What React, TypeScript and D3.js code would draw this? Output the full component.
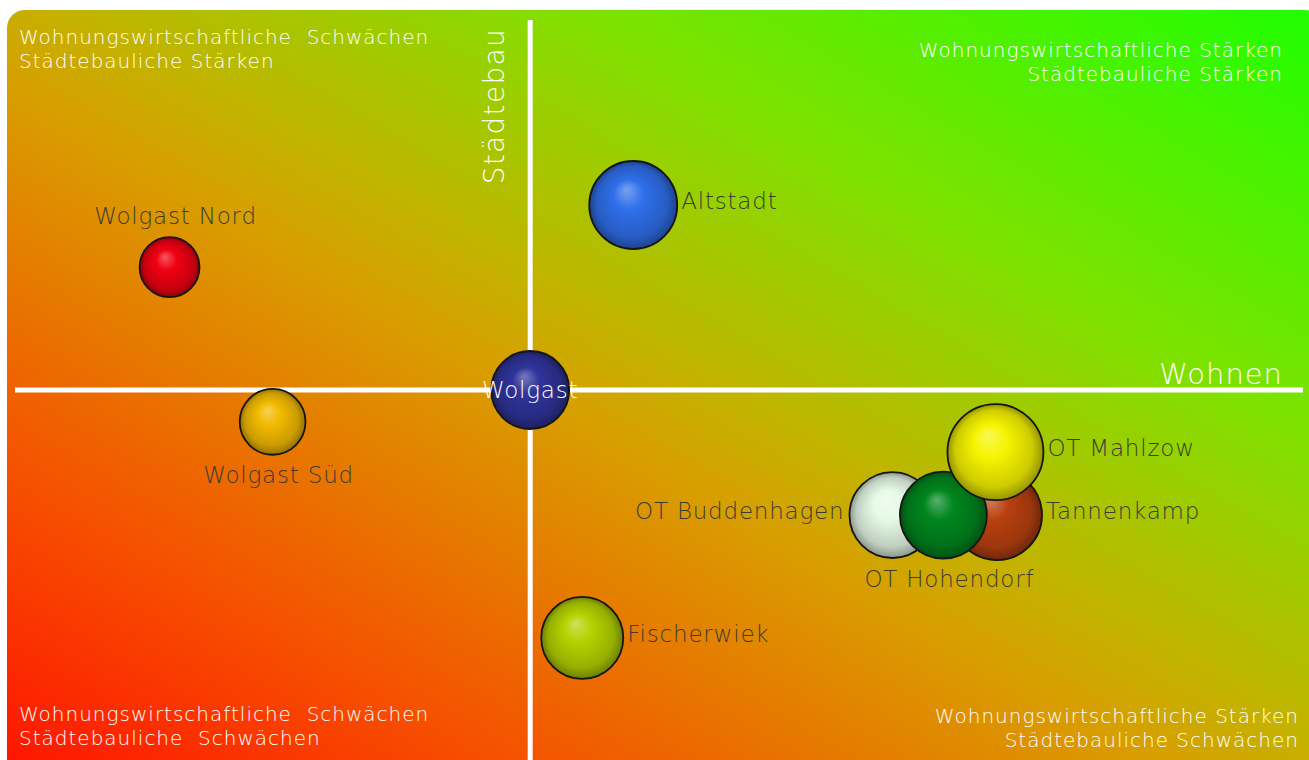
import React, { useRef, useEffect } from 'react';
import * as d3 from 'd3';

// districts: wohnen (x), staedtebau (y), size, colour, label side
const names = ['Tannenkamp', 'Altstadt', 'Wolgast Nord', 'Wolgast', 'Wolgast Süd', 'OT Buddenhagen', 'OT Hohendorf', 'OT Mahlzow', 'Fischerwiek'];
const wohnen = [90.6, 20, -70, 0, -50, 70.3, 80.2, 90.3, 10.1];
const staedtebau = [-33.8, 50, 33.2, 0, -8.6, -33.8, -33.8, -16.8, -67];
const sizes = [88, 84, 39, 66, 47, 80, 82, 100, 73];
const colors = ['#b8400f', '#2f6fea', '#f00012', '#30339a', '#f2ba00', '#e6f9e6', '#00861e', '#f6f400', '#b2d200'];
const labelSide = ['right', 'right', 'top', 'center', 'bottom', 'left', 'bottom', 'right', 'right'];

const quadrantTexts = [
  { lines: ['Wohnungswirtschaftliche  Schwächen', 'Städtebauliche Stärken'], q: 'tl' },
  { lines: ['Wohnungswirtschaftliche Stärken', 'Städtebauliche Stärken'], q: 'tr' },
  { lines: ['Wohnungswirtschaftliche  Schwächen', 'Städtebauliche  Schwächen'], q: 'bl' },
  { lines: ['Wohnungswirtschaftliche Stärken', 'Städtebauliche Schwächen'], q: 'br' },
];

const W = 1309;
const H = 760;
const FONT = '"DejaVu Sans", sans-serif';

const App = () => {
  const svgRef = useRef<SVGSVGElement>(null);

  useEffect(() => {
    const svg = d3.select(svgRef.current);
    svg.selectAll('*').remove();

    const x = d3.scaleLinear().domain([-100, 150]).range([15, 1303]);
    const y = d3.scaleLinear().domain([-100, 100]).range([760, 20]);
    const r = d3.scaleSqrt().domain([0, 100]).range([0, 48]);

    const defs = svg.append('defs');
    const bg = defs.append('linearGradient')
      .attr('id', 'bg')
      .attr('x1', 0).attr('y1', 1).attr('x2', 1).attr('y2', 0);
    [[0, '#ff1200'], [0.2, '#f65000'], [0.45, '#d89e00'], [0.52, '#c4b200'], [0.72, '#7ee200'], [1, '#1eff00']]
      .forEach(([o, c]) => bg.append('stop').attr('offset', o as number).attr('stop-color', c as string));

    // background panel
    svg.append('rect')
      .attr('x', 7).attr('y', 10)
      .attr('width', 1316).attr('height', 770)
      .attr('rx', 18)
      .attr('fill', 'url(#bg)');

    // axes cross
    svg.append('line')
      .attr('x1', x(0)).attr('x2', x(0))
      .attr('y1', 20).attr('y2', H)
      .attr('stroke', '#fff').attr('stroke-width', 5);
    svg.append('line')
      .attr('x1', 15).attr('x2', 1303)
      .attr('y1', y(0)).attr('y2', y(0))
      .attr('stroke', '#fff').attr('stroke-width', 5);

    // axis titles
    svg.append('text')
      .attr('transform', `translate(${x(0) - 36},28) rotate(-90)`)
      .attr('text-anchor', 'end')
      .attr('dy', '0.35em')
      .attr('fill', '#fff')
      .style('font-family', FONT).style('font-weight', 200).style('font-size', '28px')
      .style('letter-spacing', '1.3px')
      .text('Städtebau');
    svg.append('text')
      .attr('x', 1283).attr('y', y(0) - 6)
      .attr('text-anchor', 'end')
      .attr('fill', '#fff')
      .style('font-family', FONT).style('font-weight', 200).style('font-size', '29px')
      .style('letter-spacing', '1px')
      .text('Wohnen');

    // quadrant descriptions
    quadrantTexts.forEach(qt => {
      const left = qt.q === 'tl' || qt.q === 'bl';
      const top = qt.q === 'tl' || qt.q === 'tr';
      const tx = left ? 19 : (qt.q === 'tr' ? 1283 : 1299);
      const ty = top ? (qt.q === 'tl' ? 37 : 50) : (qt.q === 'bl' ? 714 : 716);
      const t = svg.append('text')
        .attr('text-anchor', left ? 'start' : 'end')
        .attr('fill', '#fff')
        .style('font-family', FONT).style('font-weight', 200).style('font-size', '20px')
        .style('letter-spacing', '1px')
        .style('white-space', 'pre');
      qt.lines.forEach((l, i) => {
        t.append('tspan').attr('x', tx).attr('y', ty + i * 24).attr('dy', '0.35em').text(l);
      });
    });

    // bubble gradients
    colors.forEach((c, i) => {
      const g = defs.append('radialGradient')
        .attr('id', `ball${i}`)
        .attr('cx', 0.5).attr('cy', 0.5).attr('r', 0.5)
        .attr('fx', 0.42).attr('fy', 0.32);
      const base = d3.color(c)!;
      g.append('stop').attr('offset', 0).attr('stop-color', d3.interpolateRgb(c, '#fff')(0.35));
      g.append('stop').attr('offset', 0.35).attr('stop-color', c);
      g.append('stop').attr('offset', 0.8).attr('stop-color', base.darker(0.5).formatHex());
      g.append('stop').attr('offset', 1).attr('stop-color', base.darker(1.4).formatHex());
    });

    const data = names.map((n, i) => ({
      name: n, wx: wohnen[i], sy: staedtebau[i], size: sizes[i], i, side: labelSide[i],
    }));

    const balls = svg.append('g');
    balls.selectAll('circle')
      .data(data)
      .join('circle')
      .attr('cx', d => x(d.wx))
      .attr('cy', d => y(d.sy))
      .attr('r', d => r(d.size))
      .attr('fill', d => `url(#ball${d.i})`)
      .attr('stroke', '#151515')
      .attr('stroke-width', 1.8);

    // labels
    svg.append('g')
      .selectAll('text')
      .data(data)
      .join('text')
      .attr('x', d => {
        const cx = x(d.wx), rr = r(d.size);
        if (d.side === 'right') return cx + rr + 4;
        if (d.side === 'left') return cx - rr - 5;
        return cx + (d.side === 'center' ? 0 : 6);
      })
      .attr('y', d => {
        const cy = y(d.sy), rr = r(d.size);
        if (d.side === 'top') return cy - rr - 21;
        if (d.side === 'bottom') return cy + rr + 20;
        if (d.side === 'center') return cy;
        return cy - 4;
      })
      .attr('dy', '0.35em')
      .attr('text-anchor', d => d.side === 'right' ? 'start' : d.side === 'left' ? 'end' : 'middle')
      .attr('fill', d => d.side === 'center' ? '#fff' : '#3c3c36')
      .style('font-family', FONT)
      .style('font-weight', 200)
      .style('font-size', '23px')
      .style('letter-spacing', '0.8px')
      .text(d => d.name);
  }, []);

  return (
    <svg ref={svgRef} width={W} height={H}
      style={{ position: 'absolute', left: 0, top: 0, background: '#fff' }} />
  );
};

export default App;
